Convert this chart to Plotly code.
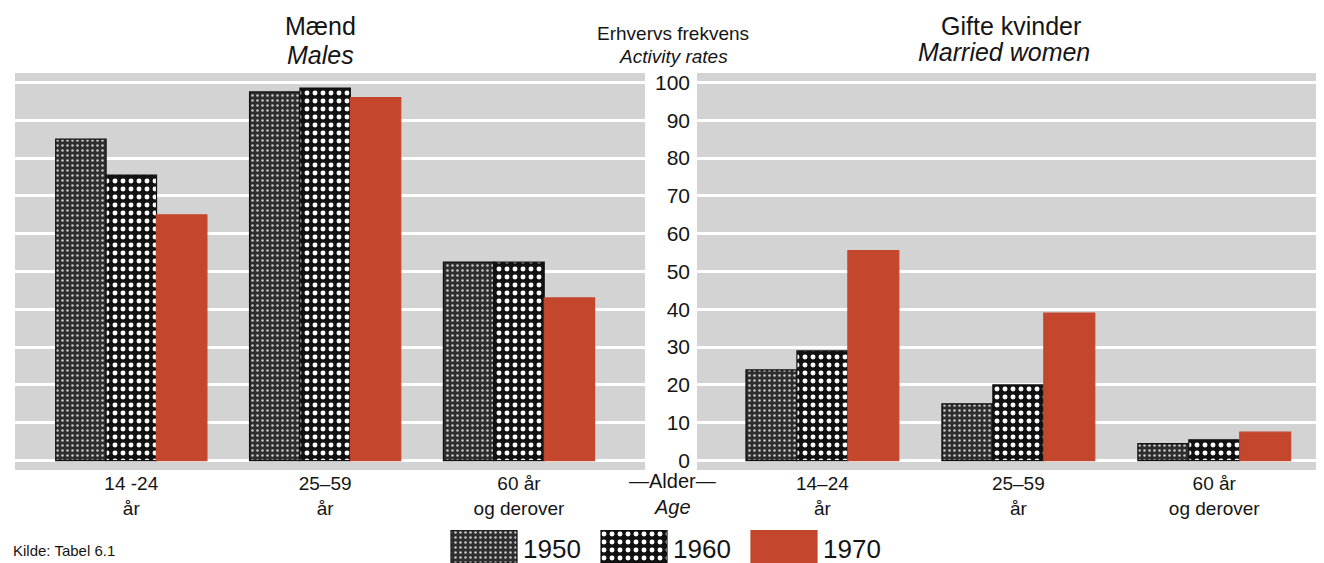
import plotly.graph_objects as go

# ---- data ----
years = ["1950", "1960", "1970"]
cats_men = ["14 -24<br>år", "25–59<br>år", "60 år<br>og derover"]
cats_women = ["14–24<br>år", "25–59<br>år", "60 år<br>og derover"]
men_1950 = [85, 97.5, 52.5]
men_1960 = [75.5, 98.5, 52.5]
men_1970 = [65, 96, 43]
women_1950 = [24, 15, 4.5]
women_1960 = [29, 20, 5.5]
women_1970 = [55.5, 39, 7.5]
y_ticks = [0, 10, 20, 30, 40, 50, 60, 70, 80, 90, 100]
legend_swatch = [1, 1, 1]

FONT = "Liberation Sans, Arial, sans-serif"
TXT = "#151515"
RED = "#c4462c"
GREY = "#d3d3d3"
styles = {
    "1950": dict(color="#444", pattern=dict(shape=".", bgcolor="#2e2e2e", fgcolor="#c8c8c8",
                                           size=5, solidity=0.2, fillmode="replace")),
    "1960": dict(color="#000", pattern=dict(shape=".", bgcolor="#111111", fgcolor="#ffffff",
                                           size=8, solidity=0.3, fillmode="replace")),
    "1970": dict(color=RED),
}

# page offset (the html body has an 8px margin)
OX, OY = 8, 8
W, H = 1324 - OX, 563 - OY


def fx(v):
    return (v - OX) / W


def fy(v):
    return 1 - (v - OY) / H


fig = go.Figure()
men = {"1950": men_1950, "1960": men_1960, "1970": men_1970}
women = {"1950": women_1950, "1960": women_1960, "1970": women_1970}


def marker_for(yr):
    st = styles[yr]
    mk = dict(color=st["color"], line=dict(color="#111" if yr != "1970" else RED, width=1.2))
    if "pattern" in st:
        mk["pattern"] = st["pattern"]
    return mk


for yr in years:
    mk = marker_for(yr)
    fig.add_trace(go.Bar(x=cats_men, y=men[yr], name=yr, marker=mk, xaxis="x", yaxis="y",
                         showlegend=False))
    fig.add_trace(go.Bar(x=cats_women, y=women[yr], name=yr, marker=mk, xaxis="x2", yaxis="y2",
                         showlegend=False))

# legend swatches (own small axis)
for i, yr in enumerate(years):
    fig.add_trace(go.Bar(x=[i], y=[legend_swatch[i]], name=yr, marker=marker_for(yr),
                         xaxis="x3", yaxis="y3", width=0.44, showlegend=False, hoverinfo="skip"))

grid = dict(showgrid=True, gridcolor="white", gridwidth=2.5, zeroline=False,
            range=[-2.5, 102.5], tickvals=y_ticks)
ydom = [fy(470), fy(73)]

fig.update_layout(
    width=W, height=H,
    margin=dict(l=0, r=0, t=0, b=0, autoexpand=False),
    paper_bgcolor="white", plot_bgcolor="white",
    barmode="group", bargap=0.22, bargroupgap=0,
    font=dict(family=FONT, color=TXT),
    showlegend=False,
    xaxis=dict(domain=[fx(15), fx(645)], range=[-0.6, 2.65], showline=False, ticks="",
               tickfont=dict(size=19, color=TXT), anchor="y"),
    xaxis2=dict(domain=[fx(697), 1], range=[-0.64, 2.56], showline=False, ticks="",
                tickfont=dict(size=19, color=TXT), anchor="y2"),
    yaxis=dict(domain=ydom, showticklabels=False, anchor="x", **grid),
    yaxis2=dict(domain=ydom, anchor="x2", side="left", showticklabels=True,
                tickfont=dict(size=21, color=TXT), ticklabelstandoff=6, **grid),
    xaxis3=dict(domain=[0, 1], range=[-(484 - OX) / 150, (1324 - 484) / 150], visible=False,
                anchor="y3"),
    yaxis3=dict(domain=[0, fy(530)], range=[0, 1], visible=False, anchor="x3"),
)

for xa, ya in (("x", "y"), ("x2", "y2")):
    fig.add_shape(type="rect", xref=f"{xa} domain", yref=f"{ya} domain", x0=0, x1=1, y0=0, y1=1,
                  fillcolor=GREY, line=dict(width=0), layer="below")

ann = [
    dict(text="Mænd", x=320, y=26, size=25),
    dict(text="<i>Males</i>", x=320, y=55, size=25),
    dict(text="Gifte kvinder", x=1011, y=26, size=25),
    dict(text="<i>Married women</i>", x=1004, y=52, size=25),
    dict(text="Erhvervs frekvens", x=673, y=34, size=19),
    dict(text="<i>Activity rates</i>", x=673, y=57, size=19),
    dict(text="—Alder—", x=672, y=481, size=20),
    dict(text="<i>Age</i>", x=672, y=507, size=20),
]
for a in ann:
    fig.add_annotation(text=a["text"], xref="paper", yref="paper",
                       x=fx(a["x"]), y=fy(a["y"]),
                       xanchor="center", yanchor="middle", showarrow=False,
                       font=dict(size=a["size"], color=TXT, family=FONT))

for i, yr in enumerate(years):
    fig.add_annotation(text=yr, xref="x3", yref="paper", x=i + 0.245, y=fy(549),
                       xanchor="left", yanchor="middle", showarrow=False,
                       font=dict(size=26, color=TXT, family=FONT))

fig.add_annotation(text="Kilde: Tabel 6.1", xref="paper", yref="paper",
                   x=fx(11), y=fy(550), xanchor="left", yanchor="middle",
                   showarrow=False, font=dict(size=15, color=TXT, family=FONT))

fig.write_html("out.html")
